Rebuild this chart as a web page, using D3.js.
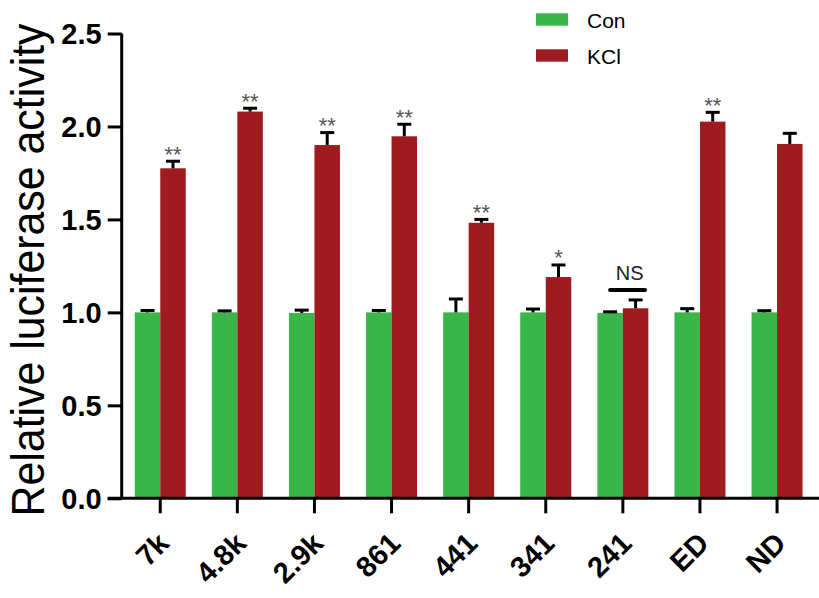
<!DOCTYPE html>
<html>
<head>
<meta charset="utf-8">
<script src="https://cdn.jsdelivr.net/npm/d3@7"></script>
<style>
  html, body { margin: 0; padding: 0; background: #fff; }
  svg { display: block; }
  text { font-family: "Liberation Sans", Arial, Helvetica, sans-serif; }
</style>
</head>
<body>
<svg id="chart" width="819" height="598"></svg>
<script>
const categories = ['7k', '4.8k', '2.9k', '861', '441', '341', '241', 'ED', 'ND'];
const seriesNames = ['Con', 'KCl'];
const conMean = [1.0, 1.0, 0.997, 1.0, 1.0, 1.0, 0.997, 1.0, 1.0];
const conErr  = [0.01, 0.008, 0.015, 0.01, 0.072, 0.018, 0.006, 0.02, 0.009];
const kclMean = [1.775, 2.08, 1.90, 1.947, 1.482, 1.19, 1.022, 2.026, 1.906];
const kclErr  = [0.038, 0.018, 0.067, 0.065, 0.018, 0.065, 0.045, 0.05, 0.057];
const sigLabels = ['**', '**', '**', '**', '**', '*', 'NS', '**', ''];
const yTicks = [0.0, 0.5, 1.0, 1.5, 2.0, 2.5];
const colors = ['#39b54a', '#9e1b20'];

(function () {
const svg = d3.select('#chart');
const pLeft = 121.7, pRight = 815.6, pTop = 33.5, pBottom = 498.3;

const x0 = d3.scaleBand().domain(categories).range([pLeft, pRight]).paddingInner(0).paddingOuter(0);
const bw = x0.bandwidth();
const barW = 25.5;
const x1 = d3.scaleBand().domain(seriesNames).range([bw / 2 - barW, bw / 2 + barW]);
const y = d3.scaleLinear().domain([0, 2.5]).range([pBottom, pTop]);

const rows = categories.map((c, i) => ({
  cat: c,
  vals: [
    { s: 'Con', m: conMean[i], e: conErr[i] },
    { s: 'KCl', m: kclMean[i], e: kclErr[i] }
  ],
  sig: sigLabels[i]
}));

// Bars
const g = svg.append('g');
const groups = g.selectAll('g.grp').data(rows).join('g')
  .attr('class', 'grp')
  .attr('transform', d => `translate(${x0(d.cat)},0)`);

groups.selectAll('rect').data(d => d.vals).join('rect')
  .attr('x', d => x1(d.s))
  .attr('width', x1.bandwidth())
  .attr('y', d => y(d.m))
  .attr('height', d => y(0) - y(d.m))
  .attr('fill', (d, i) => colors[i]);

// Error bars (upper only)
const capW = 14;
groups.selectAll('g.err').data(d => d.vals).join('g')
  .attr('class', 'err')
  .each(function (d) {
    const cx = x1(d.s) + x1.bandwidth() / 2;
    const sel = d3.select(this);
    sel.append('line')
      .attr('x1', cx).attr('x2', cx)
      .attr('y1', y(d.m)).attr('y2', y(d.m + d.e))
      .attr('stroke', '#000').attr('stroke-width', 3);
    sel.append('line')
      .attr('x1', cx - capW / 2).attr('x2', cx + capW / 2)
      .attr('y1', y(d.m + d.e)).attr('y2', y(d.m + d.e))
      .attr('stroke', '#000').attr('stroke-width', 3);
  });

// Significance labels
groups.each(function (d) {
  const sel = d3.select(this);
  const k = d.vals[1];
  const cxK = x1('KCl') + x1.bandwidth() / 2;
  const cxC = x1('Con') + x1.bandwidth() / 2;
  if (d.sig === 'NS') {
    const ly = y(k.m + k.e) - 10;
    const xa = cxC, xb = cxK + 9.5;
    sel.append('line')
      .attr('x1', xa).attr('x2', xb)
      .attr('y1', ly).attr('y2', ly)
      .attr('stroke', '#000').attr('stroke-width', 4).attr('stroke-linecap', 'round');
    sel.append('text')
      .attr('x', (xa + xb) / 2 + 2).attr('y', ly - 10)
      .attr('text-anchor', 'middle')
      .attr('font-size', 20)
      .attr('fill', '#222')
      .text('NS');
  } else if (d.sig) {
    sel.append('text')
      .attr('x', cxK).attr('y', y(k.m + k.e) + 0.5)
      .attr('text-anchor', 'middle')
      .attr('font-size', 22)
      .attr('fill', '#555')
      .text(d.sig);
  }
});

// Y axis
const yAxis = d3.axisLeft(y).tickValues(yTicks).tickFormat(d3.format('.1f')).tickSize(14).tickPadding(6);
const ya = svg.append('g').attr('transform', `translate(${pLeft},0)`).call(yAxis);
ya.select('.domain').attr('d', `M0,${pTop}V${pBottom}`).attr('stroke', '#000').attr('stroke-width', 3);
ya.selectAll('.tick line').attr('stroke', '#000').attr('stroke-width', 3);
ya.selectAll('.tick text')
  .attr('font-size', 29).attr('font-weight', 'bold').attr('fill', '#000')
  .attr('font-family', '"Liberation Sans", Arial, sans-serif')
  .attr('dy', '0.36em');

// X axis
const xAxis = d3.axisBottom(x0).tickSize(15).tickFormat('');
const xa = svg.append('g').attr('transform', `translate(0,${pBottom})`).call(xAxis);
xa.select('.domain').attr('d', `M${pLeft - 14},0H819`).attr('stroke', '#000').attr('stroke-width', 3);
xa.selectAll('.tick line').attr('stroke', '#000').attr('stroke-width', 3);

svg.append('g').selectAll('text').data(categories).join('text')
  .attr('transform', d => `translate(${x0(d) + bw / 2 + 10.5},545) rotate(-45)`)
  .attr('text-anchor', 'end')
  .attr('font-size', 29)
  .attr('font-weight', 'bold')
  .attr('fill', '#000')
  .text(d => d);

// Y title
svg.append('text')
  .attr('transform', 'translate(44,270) rotate(-90)')
  .attr('text-anchor', 'middle')
  .attr('font-size', 46)
  .attr('textLength', 493)
  .attr('lengthAdjust', 'spacingAndGlyphs')
  .attr('fill', '#000')
  .text('Relative luciferase activity');

// Legend
const legend = svg.append('g');
const legY = [13.3, 49.3];
seriesNames.forEach((s, i) => {
  legend.append('rect')
    .attr('x', 536).attr('y', legY[i])
    .attr('width', 32).attr('height', 12.4)
    .attr('fill', colors[i]);
  legend.append('text')
    .attr('x', 587).attr('y', legY[i] + 14.8)
    .attr('font-size', 21)
    .attr('fill', '#000')
    .text(s);
});
})();
</script>
</body>
</html>
